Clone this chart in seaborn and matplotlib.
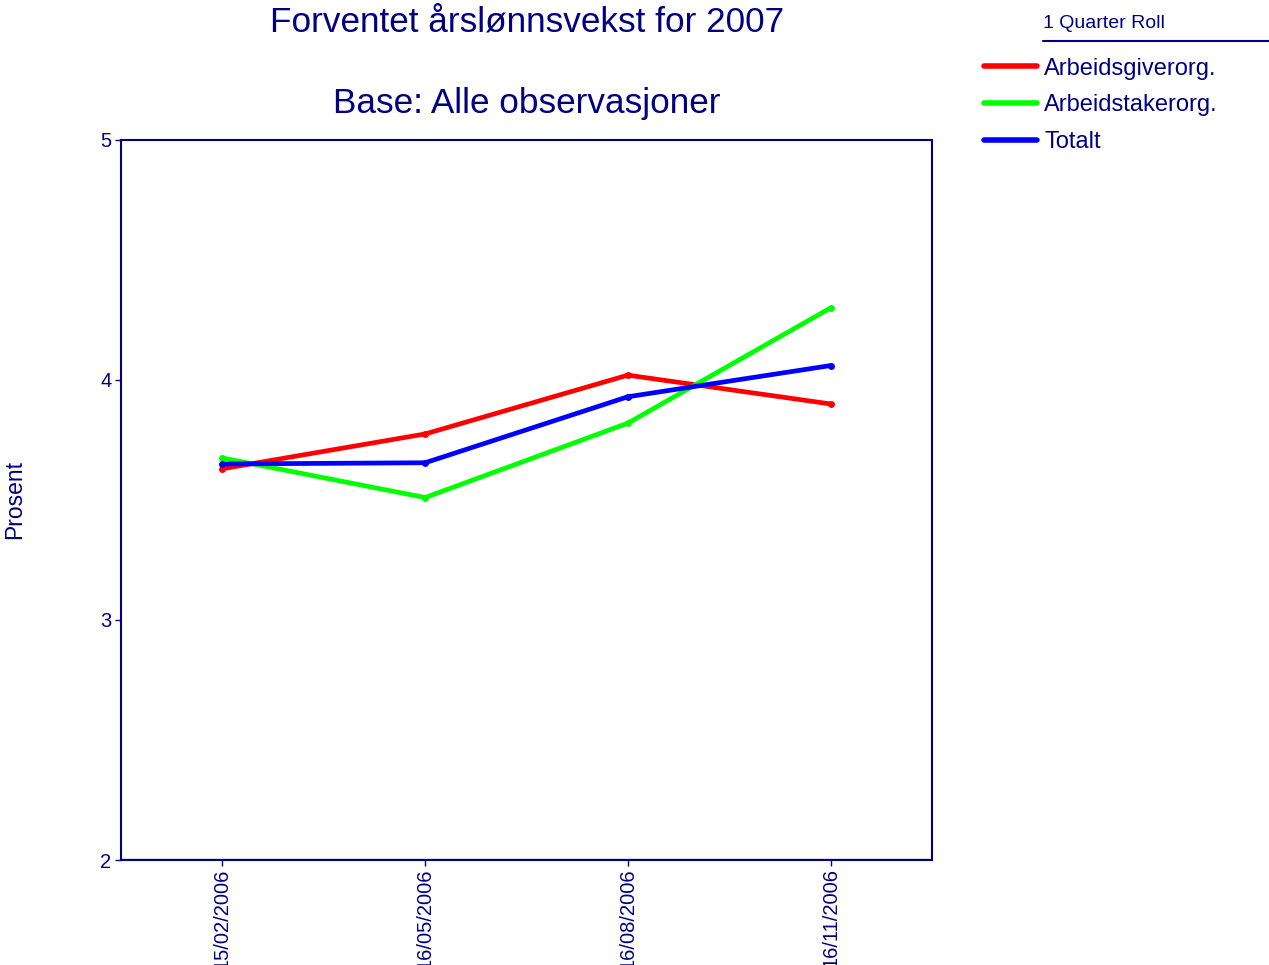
import pandas as pd
import seaborn as sns
import matplotlib.pyplot as plt
from matplotlib.lines import Line2D

# data
datoer = ["15/02/2006", "16/05/2006", "16/08/2006", "16/11/2006"]
arbeidsgiver = [3.63, 3.775, 4.02, 3.90]
arbeidstaker = [3.675, 3.51, 3.82, 4.30]
totalt = [3.65, 3.655, 3.93, 4.06]
serier = ["Arbeidsgiverorg.", "Arbeidstakerorg.", "Totalt"]
farger = ["#ff0000", "#00ff00", "#0000ff"]

navy = "#000080"

df = pd.DataFrame({
    "Dato": datoer * 3,
    "Prosent": arbeidsgiver + arbeidstaker + totalt,
    "Serie": [serier[0]] * 4 + [serier[1]] * 4 + [serier[2]] * 4,
})

sns.set_style("white")
plt.rcParams["font.family"] = ["Liberation Sans", "DejaVu Sans"]

fig = plt.figure(figsize=(12.69, 9.65), dpi=100)
ax = fig.add_axes([0.0954, 0.1088, 0.639, 0.7462])

sns.lineplot(data=df, x="Dato", y="Prosent", hue="Serie", palette=farger,
             linewidth=3.4, marker="o", markersize=5, markeredgewidth=0,
             sort=False, legend=False, ax=ax)

ax.set_xlim(-0.5, 3.5)
ax.set_ylim(2, 5)
ax.set_yticks([2, 3, 4, 5])
ax.set_xlabel("")
ax.set_ylabel("Prosent", color=navy, fontsize=16.5)
ax.yaxis.set_label_coords(-0.117, 0.5)
ax.tick_params(axis="both", colors=navy, labelsize=14.5, direction="out",
               length=4, width=1, left=True, bottom=True, pad=3)
ax.tick_params(axis="x", labelrotation=90, labelsize=14.5, pad=2)
for s in ax.spines.values():
    s.set_color(navy)
    s.set_linewidth(1.5)
ax.axhline(2.005, color="grey", lw=1, zorder=0)

fig.text(0.415, 0.977, "Forventet årslønnsvekst for 2007", color=navy,
         fontsize=25.3, ha="center", va="center")
fig.text(0.415, 0.893, "Base: Alle observasjoner", color=navy,
         fontsize=25.3, ha="center", va="center")

# legend
fig.text(0.822, 0.976, "1 Quarter Roll", color=navy, fontsize=14,
         ha="left", va="center")
fig.add_artist(Line2D([0.822, 1.0], [0.957, 0.957], color=navy, lw=1.5))
handles = [Line2D([], [], color=c, lw=4) for c in farger]
leg = fig.legend(handles, serier, loc="upper left",
                 bbox_to_anchor=(0.768, 0.950), frameon=False,
                 fontsize=17, handlelength=2.25, handletextpad=0.3,
                 labelspacing=0.62, borderaxespad=0)
for t in leg.get_texts():
    t.set_color(navy)

fig.savefig("out.png", dpi=100)
